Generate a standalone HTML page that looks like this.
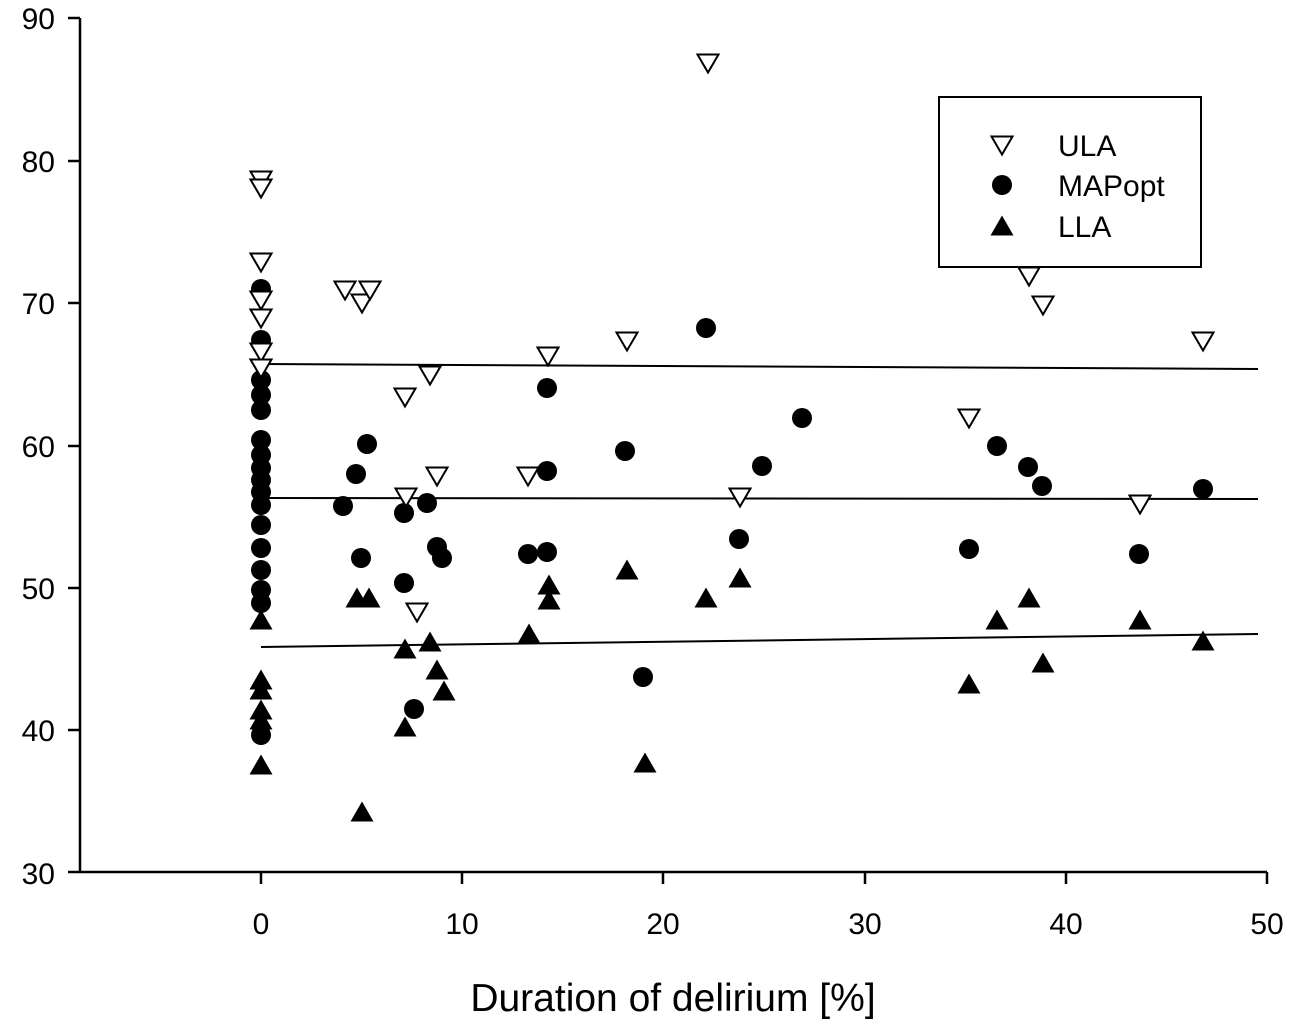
<!DOCTYPE html>
<html><head><style>html,body{margin:0;padding:0;background:#fff}svg{display:block}text{font-family:"Liberation Sans",Arial,sans-serif;fill:#000}</style></head>
<body>
<svg width="1295" height="1027" xmlns="http://www.w3.org/2000/svg">
<defs>
<path id="d" d="M-10.5,-8.5 L10.5,-8.5 L0,9.5 Z" fill="#fff" stroke="#000" stroke-width="2"/>
<path id="u" d="M-11.5,9.5 L11.5,9.5 L0,-10.5 Z" fill="#000"/>
<circle id="c" r="10" fill="#000"/>
</defs>
<g stroke="#000" stroke-width="2.5" fill="none">
<line x1="80" y1="18" x2="80" y2="873"/>
<line x1="68" y1="872" x2="1267" y2="872"/>
<line x1="68" y1="18" x2="80" y2="18"/><line x1="68" y1="161" x2="80" y2="161"/><line x1="68" y1="303" x2="80" y2="303"/><line x1="68" y1="446" x2="80" y2="446"/><line x1="68" y1="588" x2="80" y2="588"/><line x1="68" y1="730" x2="80" y2="730"/>
<line x1="261" y1="872" x2="261" y2="884"/><line x1="462" y1="872" x2="462" y2="884"/><line x1="663" y1="872" x2="663" y2="884"/><line x1="865" y1="872" x2="865" y2="884"/><line x1="1066" y1="872" x2="1066" y2="884"/><line x1="1267" y1="872" x2="1267" y2="884"/>
</g>
<g font-size="30" text-anchor="end">
<text x="55" y="29">90</text><text x="55" y="172">80</text><text x="55" y="314">70</text><text x="55" y="457">60</text><text x="55" y="599">50</text><text x="55" y="741">40</text><text x="55" y="884">30</text>
</g>
<g font-size="30" text-anchor="middle">
<text x="261" y="934">0</text><text x="462" y="934">10</text><text x="663" y="934">20</text><text x="865" y="934">30</text><text x="1066" y="934">40</text><text x="1267" y="934">50</text>
</g>
<text x="673" y="1011" font-size="39" text-anchor="middle">Duration of delirium [%]</text>
<g stroke="#000" stroke-width="2">
<line x1="261" y1="364" x2="1258" y2="369"/>
<line x1="261" y1="498" x2="1258" y2="499"/>
<line x1="261" y1="647" x2="1258" y2="634"/>
</g>
<g>
<use href="#c" x="261" y="289"/><use href="#c" x="261" y="340"/><use href="#c" x="261" y="380"/><use href="#c" x="261" y="395"/><use href="#c" x="261" y="410"/><use href="#c" x="261" y="440"/><use href="#c" x="261" y="455"/><use href="#c" x="261" y="468"/><use href="#c" x="261" y="480"/><use href="#c" x="261" y="492"/><use href="#c" x="261" y="505"/><use href="#c" x="261" y="525"/><use href="#c" x="261" y="548"/><use href="#c" x="261" y="570"/><use href="#c" x="261" y="590"/><use href="#c" x="261" y="603"/><use href="#c" x="261" y="735"/>
<use href="#c" x="343" y="506"/><use href="#c" x="356" y="474"/><use href="#c" x="361" y="558"/><use href="#c" x="367" y="444"/><use href="#c" x="404" y="513"/><use href="#c" x="404" y="583"/><use href="#c" x="414" y="709"/><use href="#c" x="427" y="503"/><use href="#c" x="437" y="547"/><use href="#c" x="442" y="558"/><use href="#c" x="528" y="554"/><use href="#c" x="547" y="388"/><use href="#c" x="547" y="471"/><use href="#c" x="547" y="552"/><use href="#c" x="625" y="451"/><use href="#c" x="643" y="677"/><use href="#c" x="706" y="328"/><use href="#c" x="739" y="539"/><use href="#c" x="762" y="466"/><use href="#c" x="802" y="418"/><use href="#c" x="969" y="549"/><use href="#c" x="997" y="446"/><use href="#c" x="1028" y="467"/><use href="#c" x="1042" y="486"/><use href="#c" x="1139" y="554"/><use href="#c" x="1203" y="489"/>
<use href="#u" x="261" y="620"/><use href="#u" x="261" y="680"/><use href="#u" x="261" y="690"/><use href="#u" x="261" y="710"/><use href="#u" x="261" y="720"/><use href="#u" x="261" y="765"/>
<use href="#u" x="362" y="812"/><use href="#u" x="357" y="598"/><use href="#u" x="369" y="598"/><use href="#u" x="405" y="649"/><use href="#u" x="405" y="727"/><use href="#u" x="430" y="642"/><use href="#u" x="437" y="670"/><use href="#u" x="444" y="691"/><use href="#u" x="529" y="634"/><use href="#u" x="549" y="585"/><use href="#u" x="549" y="600"/><use href="#u" x="627" y="570"/><use href="#u" x="645" y="763"/><use href="#u" x="706" y="598"/><use href="#u" x="740" y="578"/><use href="#u" x="969" y="684"/><use href="#u" x="997" y="620"/><use href="#u" x="1029" y="598"/><use href="#u" x="1043" y="663"/><use href="#u" x="1140" y="620"/><use href="#u" x="1203" y="641"/>
<use href="#d" x="261" y="180"/><use href="#d" x="261" y="188"/><use href="#d" x="261" y="262"/><use href="#d" x="261" y="300"/><use href="#d" x="261" y="318"/><use href="#d" x="261" y="352"/><use href="#d" x="261" y="368"/>
<use href="#d" x="345" y="290"/><use href="#d" x="362" y="303"/><use href="#d" x="370" y="290"/><use href="#d" x="405" y="397"/><use href="#d" x="430" y="375"/><use href="#d" x="437" y="476"/><use href="#d" x="406" y="497"/><use href="#d" x="417" y="612"/><use href="#d" x="528" y="476"/><use href="#d" x="548" y="356"/><use href="#d" x="627" y="341"/><use href="#d" x="708" y="63"/><use href="#d" x="740" y="497"/><use href="#d" x="969" y="418"/><use href="#d" x="1029" y="276"/><use href="#d" x="1043" y="305"/><use href="#d" x="1140" y="504"/><use href="#d" x="1203" y="341"/>
</g>
<rect x="939" y="97" width="262" height="170" fill="#fff" stroke="#000" stroke-width="2"/>
<use href="#d" x="1002" y="145"/><use href="#c" x="1002" y="185"/><use href="#u" x="1002" y="226"/>
<g font-size="30"><text x="1058" y="156">ULA</text><text x="1058" y="196">MAPopt</text><text x="1058" y="237">LLA</text></g>
</svg>
</body></html>
